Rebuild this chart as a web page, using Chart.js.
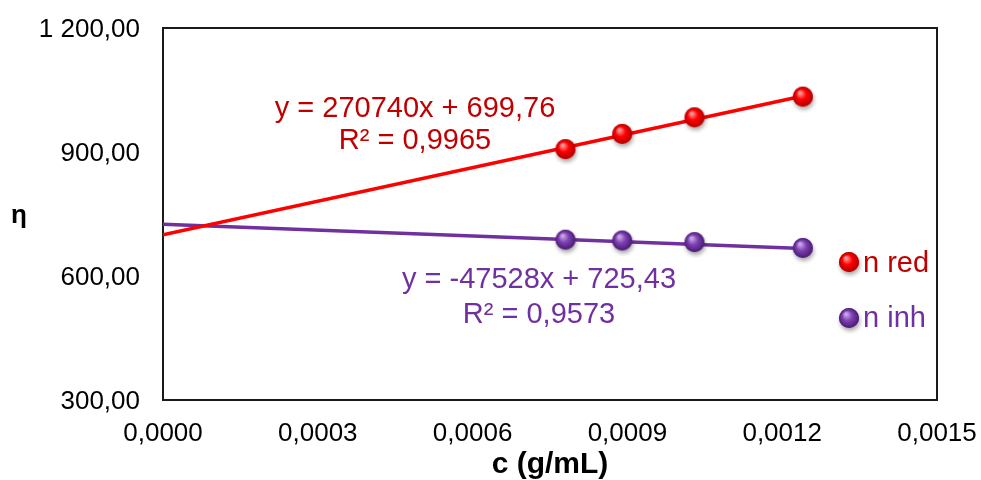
<!DOCTYPE html>
<html>
<head>
<meta charset="utf-8">
<script src="https://cdn.jsdelivr.net/npm/chart.js@4.4.1/dist/chart.umd.min.js"></script>
<style>
  html, body { margin: 0; padding: 0; background: #fff; }
  #wrap { width: 981px; height: 480px; }
</style>
</head>
<body>
<div id="wrap"><canvas id="viscChart"></canvas></div>
<script>
// Concentration (g/mL) and viscosity values
const concentrations = [0.00078, 0.00089, 0.00103, 0.00124];
const etaRed = [907, 944, 984, 1034];
const etaInh = [688, 686, 682, 668];

// Linear trendlines: [slope, intercept] and the x span they cover
const redFit = [270740, 699.76];
const inhFit = [-47528, 725.43];
const fitSpan = [0, 0.00124];

const seriesNames = ['n red', 'n inh'];
const redEquation = ['y = 270740x + 699,76', 'R² = 0,9965'];
const inhEquation = ['y = -47528x + 725,43', 'R² = 0,9573'];
const xTitle = 'c (g/mL)';
const yTitle = 'η';

const RED = '#FF0000', RED_TEXT = '#C00000', PURPLE = '#7030A0';
const FONT = '"Liberation Sans", Arial, sans-serif';

// Shaded ball marker with a soft drop shadow
function makeBall(light, base, dark, r) {
    const size = r * 2 + 12;
    const c = document.createElement('canvas');
    c.width = c.height = size;
    const g = c.getContext('2d');
    const cx = size / 2, cy = size / 2;
    g.save();
    g.shadowColor = 'rgba(0,0,0,0.35)';
    g.shadowBlur = 4;
    g.shadowOffsetX = 1;
    g.shadowOffsetY = 3;
    g.beginPath();
    g.arc(cx, cy, r, 0, Math.PI * 2);
    g.fillStyle = base;
    g.fill();
    g.restore();
    const grad = g.createRadialGradient(cx - r * 0.3, cy - r * 0.4, r * 0.1, cx, cy, r);
    grad.addColorStop(0, light);
    grad.addColorStop(0.45, base);
    grad.addColorStop(1, dark);
    g.beginPath();
    g.arc(cx, cy, r, 0, Math.PI * 2);
    g.fillStyle = grad;
    g.fill();
    return c;
}

const redBall = makeBall('#ff9a9a', '#ff0000', '#b00000', 10);
const inhBall = makeBall('#c8a6e4', '#7e40b4', '#4a1a70', 10);

function fmtComma(v, digits) {
    const parts = v.toFixed(digits).split('.');
    parts[0] = parts[0].replace(/\B(?=(\d{3})+(?!\d))/g, ' ');
    return parts.join(',');
}

function fitLine(fit) {
    return fitSpan.map(x => ({ x: x, y: fit[0] * x + fit[1] }));
}

const toPoints = ys => concentrations.map((x, i) => ({ x: x, y: ys[i] }));

// keep the plot box where the layout padding puts it
function noScalePadding(s) {
    s.paddingTop = 0;
    s.paddingBottom = 0;
    s.paddingLeft = 0;
    s.paddingRight = 0;
}

// Frame, axis titles, legend and trendline equations
const overlay = {
    id: 'overlay',
    beforeDatasetsDraw(chart) {
        const { ctx, chartArea: a } = chart;
        ctx.save();
        ctx.strokeStyle = '#1a1a1a';
        ctx.lineWidth = 2;
        ctx.strokeRect(a.left, a.top, a.right - a.left, a.bottom - a.top);
        ctx.restore();
    },
    afterDraw(chart) {
        const { ctx, chartArea: a } = chart;
        ctx.save();
        ctx.textBaseline = 'alphabetic';
        ctx.textAlign = 'center';

        ctx.fillStyle = '#000';
        ctx.font = 'bold 26px ' + FONT;
        ctx.fillText(yTitle, 19, 223);
        ctx.font = 'bold 30px ' + FONT;
        ctx.fillText(xTitle, (a.left + a.right) / 2, a.bottom + 73);

        ctx.font = '29px ' + FONT;
        ctx.fillStyle = RED_TEXT;
        ctx.fillText(redEquation[0], a.left + 252, a.top + 89);
        ctx.fillText(redEquation[1], a.left + 252, a.top + 121);
        ctx.fillStyle = PURPLE;
        ctx.fillText(inhEquation[0], a.left + 376, a.top + 260);
        ctx.fillText(inhEquation[1], a.left + 376, a.top + 295);

        // legend
        const lx = a.right - 88;
        ctx.drawImage(redBall, lx - redBall.width / 2, a.top + 234 - redBall.height / 2);
        ctx.drawImage(inhBall, lx - inhBall.width / 2, a.top + 290 - inhBall.height / 2);
        ctx.textAlign = 'left';
        ctx.fillStyle = RED_TEXT;
        ctx.fillText(seriesNames[0], lx + 14, a.top + 244);
        ctx.fillStyle = PURPLE;
        ctx.fillText(seriesNames[1], lx + 14, a.top + 299);
        ctx.restore();
    }
};

new Chart(document.getElementById('viscChart'), {
    type: 'scatter',
    data: {
        datasets: [
            { label: seriesNames[0], data: toPoints(etaRed), pointStyle: redBall, pointRadius: 10, pointHoverRadius: 10 },
            { label: seriesNames[1], data: toPoints(etaInh), pointStyle: inhBall, pointRadius: 10, pointHoverRadius: 10 },
            { data: fitLine(redFit), showLine: true, borderColor: RED, borderWidth: 3.5, pointRadius: 0 },
            { data: fitLine(inhFit), showLine: true, borderColor: PURPLE, borderWidth: 3.5, pointRadius: 0 }
        ]
    },
    options: {
        responsive: true,
        maintainAspectRatio: false,
        animation: false,
        layout: { padding: { top: 28, right: 44, left: 0, bottom: 0 } },
        plugins: { legend: { display: false }, tooltip: { enabled: false } },
        scales: {
            x: {
                type: 'linear',
                min: 0,
                max: 0.0015,
                grid: { display: false, drawTicks: false },
                border: { display: false },
                ticks: {
                    stepSize: 0.0003,
                    padding: 18,
                    color: '#000',
                    font: { family: FONT, size: 26 },
                    callback: v => fmtComma(v, 4)
                },
                afterFit: s => { s.height = 80; noScalePadding(s); }
            },
            y: {
                min: 300,
                max: 1200,
                grid: { display: false, drawTicks: false },
                border: { display: false },
                ticks: {
                    stepSize: 300,
                    padding: 23,
                    labelOffset: 2,
                    color: '#000',
                    font: { family: FONT, size: 26 },
                    callback: v => fmtComma(v, 2)
                },
                afterFit: s => { s.width = 163; noScalePadding(s); }
            }
        }
    },
    plugins: [overlay]
});
</script>
</body>
</html>
